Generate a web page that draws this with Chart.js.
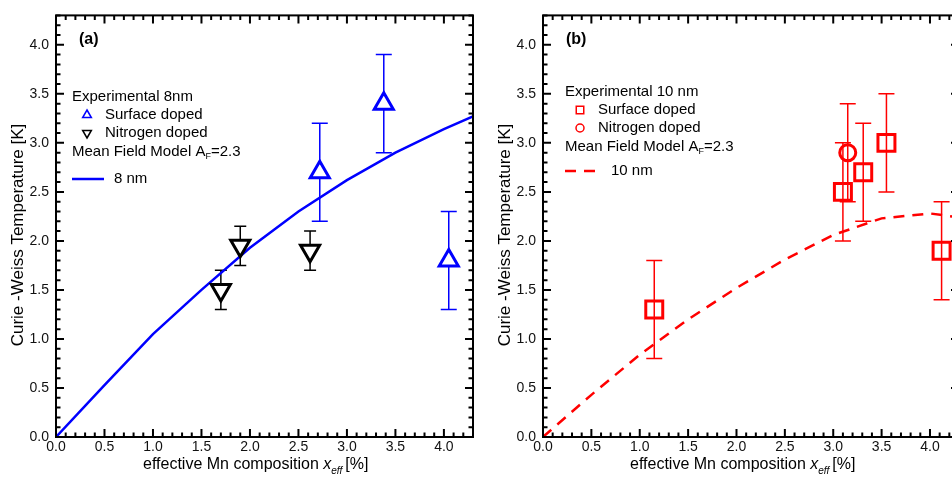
<!DOCTYPE html>
<html>
<head>
<meta charset="utf-8">
<script src="https://cdn.jsdelivr.net/npm/chart.js@4.4.1/dist/chart.umd.min.js"></script>
<style>
  html, body { margin: 0; padding: 0; background: #fff; overflow: hidden; }
  #wrap { position: relative; width: 952px; height: 477px; overflow: hidden; }
  .panel { position: absolute; top: 0; }
</style>
</head>
<body>
<div id="wrap">
  <div class="panel" style="left:0"><canvas id="chartA" width="490" height="477"></canvas></div>
  <div class="panel" style="left:490px"><canvas id="chartB" width="490" height="477"></canvas></div>
</div>
<script>
// panel (a): 8 nm wires
const surfA_x = [2.72, 3.38, 4.05];
const surfA_y = [2.7, 3.4, 1.8];
const surfA_err = [0.5, 0.5, 0.5];
const nitA_x = [1.7, 1.9, 2.62];
const nitA_y = [1.5, 1.95, 1.9];
const nitA_err = [0.2, 0.2, 0.2];
const modelA_x = [0, 0.5, 1.0, 1.5, 2.0, 2.5, 3.0, 3.5, 4.0, 4.3];
const modelA_y = [0, 0.53, 1.05, 1.5, 1.93, 2.3, 2.62, 2.9, 3.14, 3.27];

// panel (b): 10 nm wires
const surfB_x = [1.15, 3.1, 3.31, 3.55, 4.12];
const surfB_y = [1.3, 2.5, 2.7, 3.0, 1.9];
const surfB_err = [0.5, 0.5, 0.5, 0.5, 0.5];
const nitB_x = [3.15];
const nitB_y = [2.9];
const nitB_err = [0.5];
const modelB_x = [0, 0.5, 1.0, 1.5, 2.0, 2.5, 3.0, 3.5, 4.0, 4.3];
const modelB_y = [0, 0.43, 0.84, 1.2, 1.52, 1.81, 2.06, 2.23, 2.28, 2.24];

// shared axis ticks (both axes, both panels)
const tickValues = [0, 0.5, 1.0, 1.5, 2.0, 2.5, 3.0, 3.5, 4.0];
const tickLabels = ['0.0', '0.5', '1.0', '1.5', '2.0', '2.5', '3.0', '3.5', '4.0'];

const FONT = '"Liberation Sans", Arial, sans-serif';
const BLUE = '#0000ff', RED = '#ff0000', BLACK = '#000000';

function pts(xs, ys) {
  return xs.map((x, i) => ({ x: x, y: ys[i] }));
}

function marker(ctx, kind, x, y, color, r) {
  ctx.save();
  ctx.strokeStyle = color;
  ctx.lineWidth = 1.5;
  ctx.beginPath();
  if (kind === 'up') {
    ctx.moveTo(x, y - r); ctx.lineTo(x + r * 0.87, y + r * 0.5); ctx.lineTo(x - r * 0.87, y + r * 0.5); ctx.closePath();
  } else if (kind === 'down') {
    ctx.moveTo(x, y + r); ctx.lineTo(x + r * 0.87, y - r * 0.5); ctx.lineTo(x - r * 0.87, y - r * 0.5); ctx.closePath();
  } else if (kind === 'square') {
    ctx.rect(x - r * 0.75, y - r * 0.75, r * 1.5, r * 1.5);
  } else {
    ctx.arc(x, y, r * 0.8, 0, Math.PI * 2);
  }
  ctx.stroke();
  ctx.restore();
}

// frame, inside ticks, error bars, titles and the hand-placed legend
function makeFrame(cfg) {
  return {
    id: 'frame',
    beforeDatasetsDraw(chart) {
      const { ctx, scales: { x, y } } = chart;
      chart.data.datasets.forEach(ds => {
        if (!ds.err) return;
        ctx.save();
        ctx.strokeStyle = ds.borderColor;
        ctx.lineWidth = 1.5;
        ds.data.forEach((p, i) => {
          const px = x.getPixelForValue(p.x);
          const top = y.getPixelForValue(p.y + ds.err[i]);
          const bot = y.getPixelForValue(p.y - ds.err[i]);
          ctx.beginPath();
          ctx.moveTo(px, top); ctx.lineTo(px, bot);
          ctx.moveTo(px - ds.cap, top); ctx.lineTo(px + ds.cap, top);
          ctx.moveTo(px - ds.cap, bot); ctx.lineTo(px + ds.cap, bot);
          ctx.stroke();
        });
        ctx.restore();
      });
    },
    afterDraw(chart) {
      const { ctx, chartArea: a, scales: { x, y } } = chart;
      ctx.save();
      ctx.strokeStyle = BLACK;
      ctx.lineWidth = 2;
      ctx.strokeRect(a.left, a.top, a.right - a.left, a.bottom - a.top);
      ctx.beginPath();
      for (let k = 0; k <= 43; k++) {
        const v = k / 10;
        const len = k % 5 === 0 ? 8 : 4.5;
        const px = x.getPixelForValue(v);
        ctx.moveTo(px, a.bottom); ctx.lineTo(px, a.bottom - len);
        ctx.moveTo(px, a.top); ctx.lineTo(px, a.top + len);
        const py = y.getPixelForValue(v);
        ctx.moveTo(a.left, py); ctx.lineTo(a.left + len, py);
        ctx.moveTo(a.right, py); ctx.lineTo(a.right - len, py);
      }
      ctx.stroke();

      // axis titles
      ctx.fillStyle = BLACK;
      ctx.textBaseline = 'middle';
      ctx.textAlign = 'left';
      let tx = a.left + 87;
      const ty = 465;
      ctx.font = '16px ' + FONT;
      const t1 = 'effective Mn composition ';
      ctx.fillText(t1, tx, ty); tx += ctx.measureText(t1).width;
      ctx.font = 'italic 16px ' + FONT;
      ctx.fillText('x', tx, ty); tx += ctx.measureText('x').width;
      ctx.font = 'italic 10px ' + FONT;
      ctx.fillText('eff', tx, ty + 6); tx += ctx.measureText('eff').width + 3;
      ctx.font = '16px ' + FONT;
      ctx.fillText('[%]', tx, ty);

      ctx.save();
      ctx.translate(a.left - 38, 235);
      ctx.rotate(-Math.PI / 2);
      ctx.textAlign = 'center';
      ctx.font = '17px ' + FONT;
      ctx.fillText('Curie -Weiss Temperature [K]', 0, 0);
      ctx.restore();

      // panel label
      ctx.font = 'bold 16px ' + FONT;
      ctx.fillText(cfg.label, cfg.lx, 40);

      // legend
      const L = cfg.legend;
      ctx.font = '15px ' + FONT;
      ctx.fillText(L.head, L.x, L.y0);
      marker(ctx, L.m1, L.x + 15, L.y0 + 18, L.color, 5);
      ctx.fillText('Surface doped', L.x + 33, L.y0 + 18);
      marker(ctx, L.m2, L.x + 15, L.y0 + 36, L.c2, 5);
      ctx.fillText('Nitrogen doped', L.x + 33, L.y0 + 36);
      let mx = L.x;
      const my = L.y0 + 55;
      const m1 = 'Mean Field Model A';
      ctx.fillText(m1, mx, my); mx += ctx.measureText(m1).width;
      ctx.font = '9px ' + FONT;
      ctx.fillText('F', mx, my + 5); mx += ctx.measureText('F').width;
      ctx.font = '15px ' + FONT;
      ctx.fillText('=2.3', mx, my);

      ctx.strokeStyle = L.color;
      ctx.lineWidth = 2.5;
      ctx.setLineDash(L.dash);
      ctx.beginPath();
      ctx.moveTo(L.x, L.y0 + L.lineDy); ctx.lineTo(L.x + L.lineLen, L.y0 + L.lineDy);
      ctx.stroke();
      ctx.setLineDash([]);
      ctx.fillText(L.lineText, L.x + L.lineLen + 10, L.y0 + L.lineDy);
      ctx.restore();
    }
  };
}

function makeChart(id, datasets, yWidth, padRight, cfg) {
  const axis = (extra) => Object.assign({
    type: 'linear', min: 0,
    grid: { display: false, drawTicks: false },
    border: { display: false },
    afterBuildTicks: s => { s.ticks = tickValues.map(v => ({ value: v })); },
    ticks: {
      autoSkip: false, maxRotation: 0, color: '#111',
      font: { family: FONT, size: 14 },
      callback: v => tickLabels[tickValues.indexOf(v)]
    }
  }, extra);
  const xs = axis({ max: 4.3, afterFit: s => { s.height = 40; } });
  xs.ticks.padding = 2;
  const ys = axis({ max: 4.3, afterFit: s => { s.width = yWidth; } });
  ys.ticks = Object.assign({}, xs.ticks, { padding: 7 });
  return new Chart(document.getElementById(id), {
    type: 'scatter',
    data: { datasets: datasets },
    options: {
      responsive: false,
      animation: false,
      layout: { padding: { top: 12, right: padRight, left: 0, bottom: 0 } },
      plugins: { legend: { display: false }, tooltip: { enabled: false } },
      scales: { x: xs, y: ys }
    },
    plugins: [makeFrame(cfg)]
  });
}

makeChart('chartA', [
  { data: pts(surfA_x, surfA_y), err: surfA_err, cap: 8, pointStyle: 'triangle', pointRadius: 11,
    borderColor: BLUE, backgroundColor: '#fff', pointBorderWidth: 3, showLine: false },
  { data: pts(nitA_x, nitA_y), err: nitA_err, cap: 6, pointStyle: 'triangle', pointRotation: 180, pointRadius: 11,
    borderColor: BLACK, backgroundColor: '#fff', pointBorderWidth: 3, showLine: false },
  { data: pts(modelA_x, modelA_y), showLine: true, pointRadius: 0, borderColor: BLUE, borderWidth: 2.5 }
], 56, 17, {
  label: '(a)', lx: 79,
  legend: { head: 'Experimental 8nm', x: 72, y0: 97, m1: 'up', m2: 'down', color: BLUE, c2: BLACK,
            dash: [], lineLen: 32, lineDy: 82, lineText: '8 nm' }
});

makeChart('chartB', [
  { data: pts(surfB_x, surfB_y), err: surfB_err, cap: 8, pointStyle: 'rect', pointRadius: 12,
    borderColor: RED, backgroundColor: 'rgba(0,0,0,0)', pointBorderWidth: 3, showLine: false },
  { data: pts(nitB_x, nitB_y), err: nitB_err, cap: 8, pointStyle: 'circle', pointRadius: 8,
    borderColor: RED, backgroundColor: 'rgba(0,0,0,0)', pointBorderWidth: 3, showLine: false },
  { data: pts(modelB_x, modelB_y), showLine: true, pointRadius: 0, borderColor: RED, borderWidth: 2.5,
    borderDash: [11, 8] }
], 53, 21, {
  label: '(b)', lx: 76,
  legend: { head: 'Experimental 10 nm', x: 75, y0: 92, m1: 'square', m2: 'circle', color: RED, c2: RED,
            dash: [11, 8], lineLen: 36, lineDy: 79, lineText: '10 nm' }
});
</script>
</body>
</html>
